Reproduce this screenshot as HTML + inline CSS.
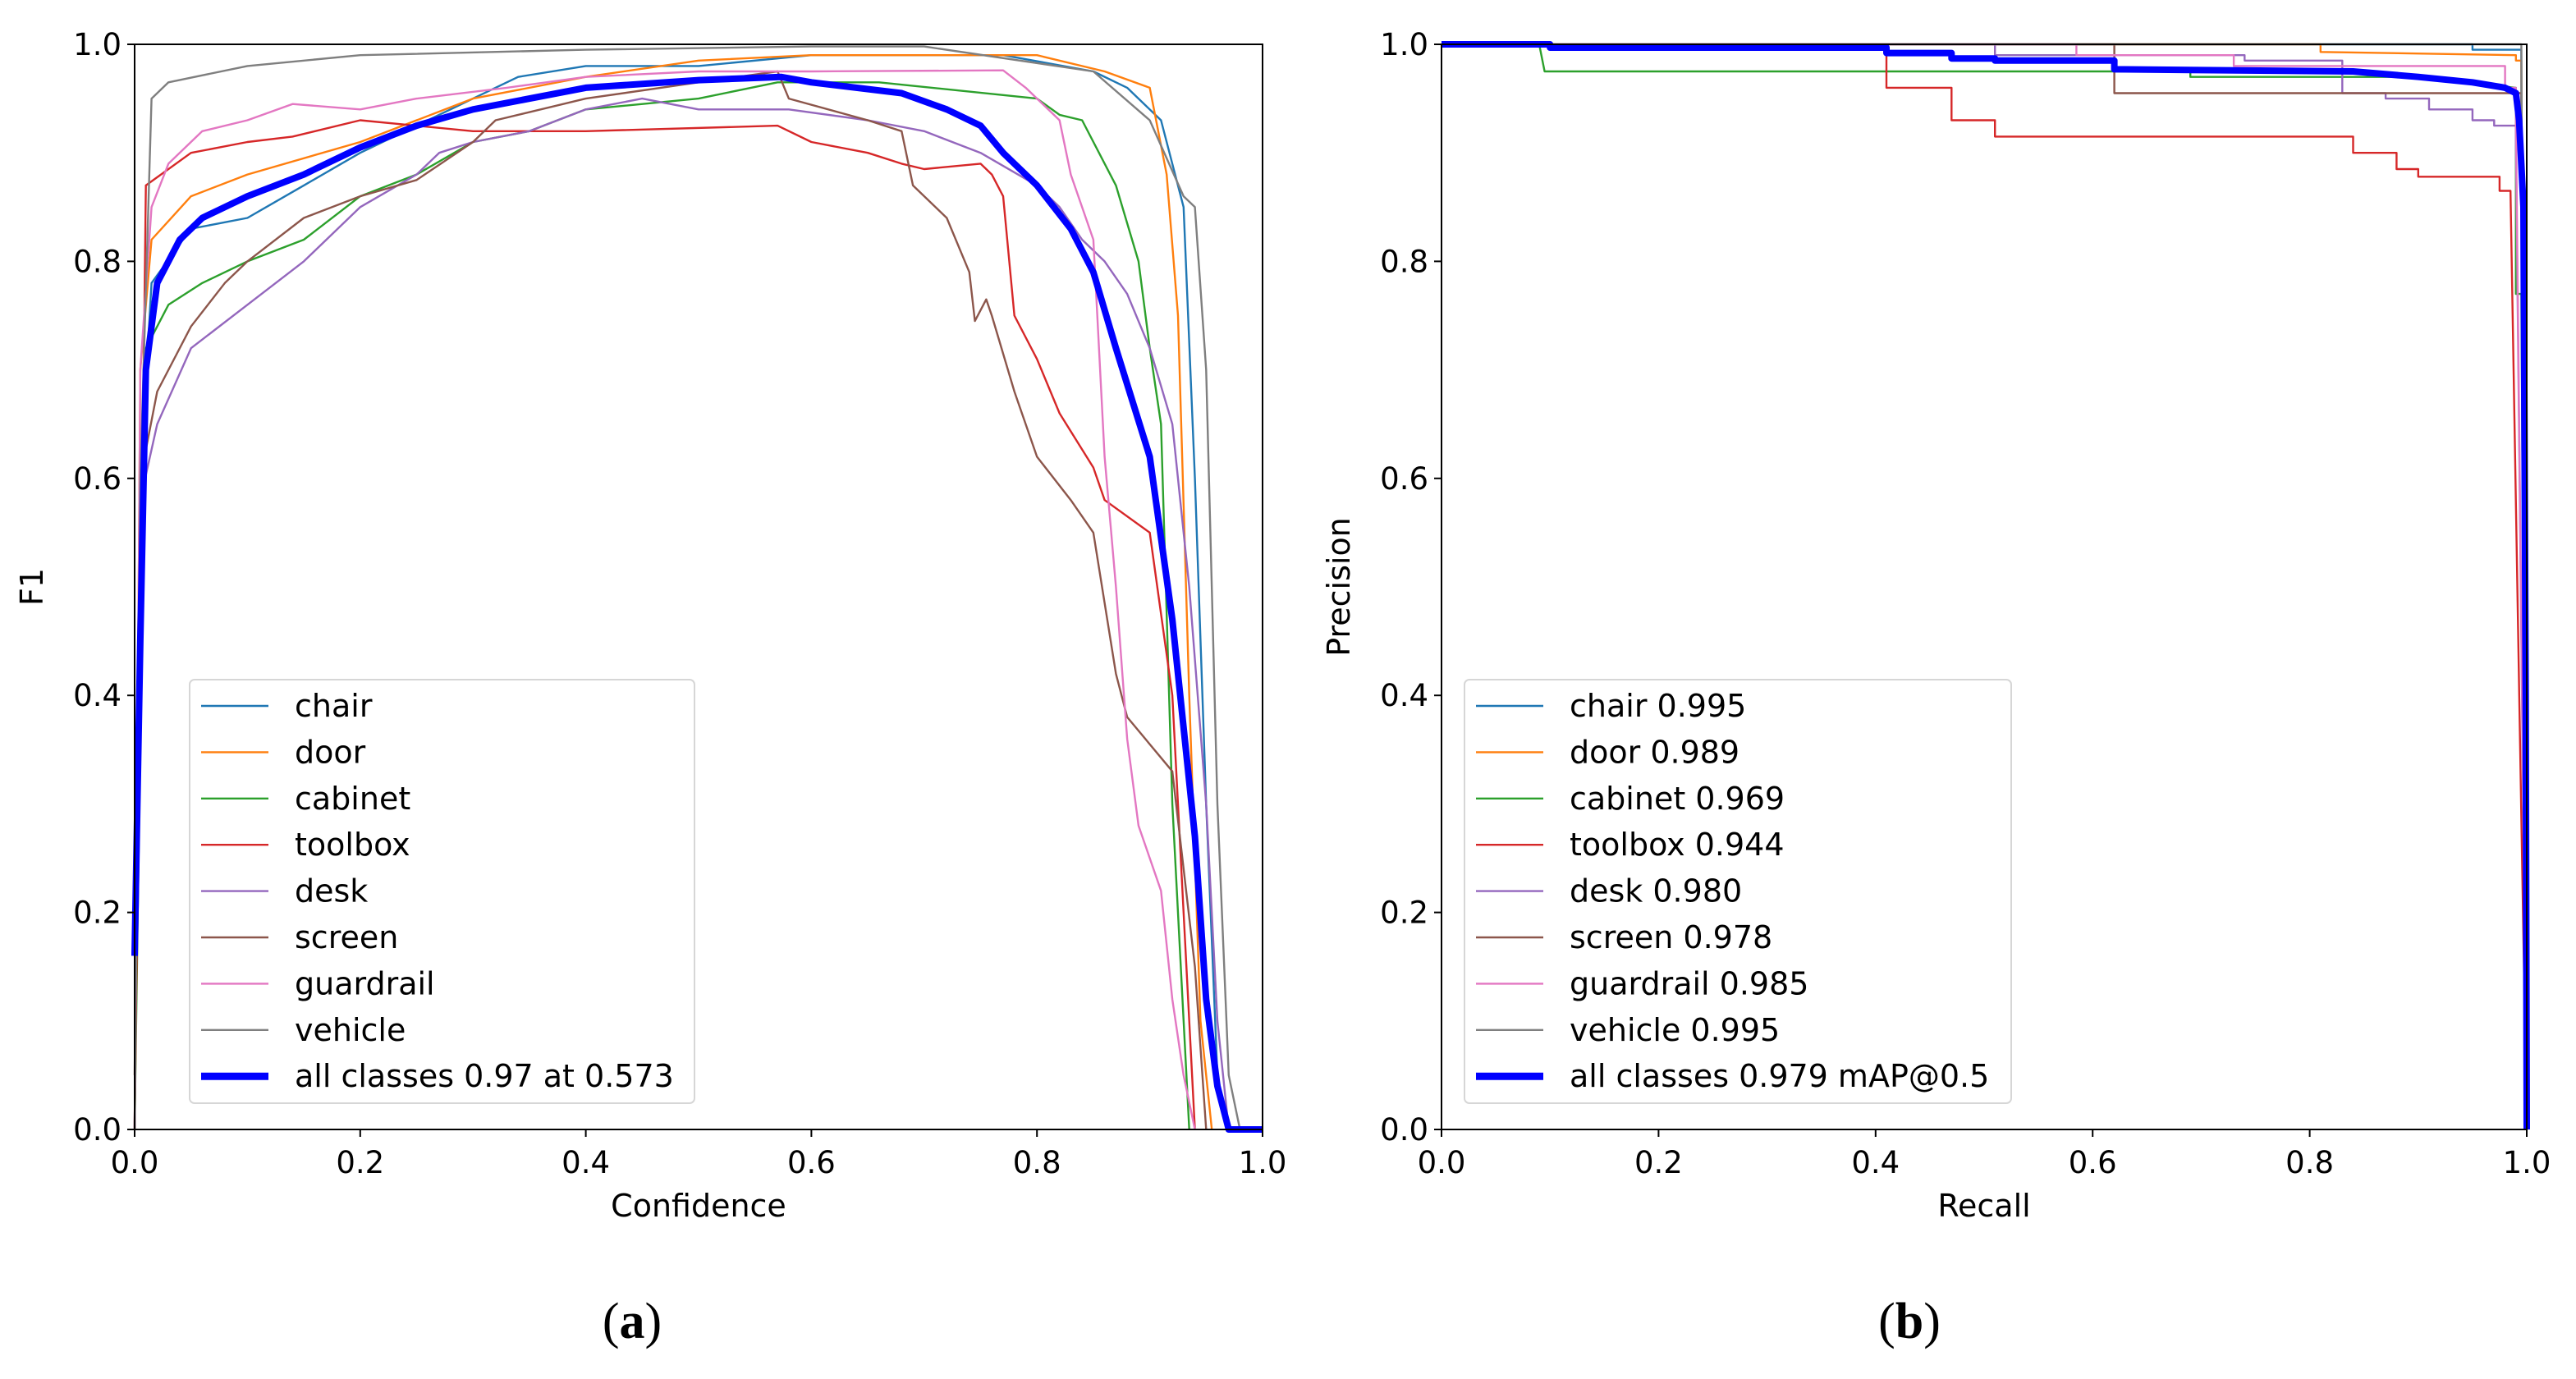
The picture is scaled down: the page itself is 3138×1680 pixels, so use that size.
<!DOCTYPE html>
<html><head><meta charset="utf-8"><style>
html,body{margin:0;padding:0;background:#fff;}
svg{display:block;font-family:"DejaVu Sans","Liberation Sans",sans-serif;}
</style></head><body>
<svg id="chart" width="3138" height="1680" viewBox="0 0 3138 1680" xmlns="http://www.w3.org/2000/svg">
<rect width="3138" height="1680" fill="#fff"/>
<g id="pA"></g>
<g id="pB"></g>
<text x="770" y="1630" text-anchor="middle" font-family="Liberation Serif, serif" font-size="62">(<tspan font-weight="bold">a</tspan>)</text>
<text x="2326" y="1630" text-anchor="middle" font-family="Liberation Serif, serif" font-size="62">(<tspan font-weight="bold">b</tspan>)</text>
</svg>
<script>
const classNames=["chair","door","cabinet","toolbox","desk","screen","guardrail","vehicle","all classes"];
const colors=["#1f77b4","#ff7f0e","#2ca02c","#d62728","#9467bd","#8c564b","#e377c2","#7f7f7f","#0000ff"];
const tickLabels=["0.0","0.2","0.4","0.6","0.8","1.0"];
const tickValues=[0,0.2,0.4,0.6,0.8,1.0];
// F1 vs confidence
const f1X_chair=[0,0.005,0.015,0.05,0.1,0.15,0.2,0.26,0.3,0.34,0.4,0.5,0.6,0.77,0.85,0.88,0.91,0.93,0.94,0.95,0.96,0.97];
const f1Y_chair=[0,0.6,0.78,0.83,0.84,0.87,0.9,0.93,0.95,0.97,0.98,0.98,0.99,0.99,0.975,0.96,0.93,0.85,0.6,0.3,0.05,0];
const f1X_door=[0,0.005,0.015,0.05,0.1,0.2,0.3,0.4,0.5,0.6,0.8,0.86,0.9,0.915,0.925,0.935,0.945,0.955];
const f1Y_door=[0,0.7,0.82,0.86,0.88,0.91,0.95,0.97,0.985,0.99,0.99,0.975,0.96,0.88,0.75,0.4,0.1,0];
const f1X_cabinet=[0,0.01,0.03,0.06,0.1,0.15,0.2,0.25,0.3,0.35,0.4,0.5,0.57,0.66,0.8,0.82,0.84,0.87,0.89,0.9,0.91,0.92,0.935];
const f1Y_cabinet=[0,0.72,0.76,0.78,0.8,0.82,0.86,0.88,0.91,0.92,0.94,0.95,0.965,0.965,0.95,0.935,0.93,0.87,0.8,0.72,0.65,0.3,0];
const f1X_toolbox=[0,0.01,0.05,0.1,0.14,0.2,0.3,0.4,0.57,0.6,0.65,0.68,0.7,0.75,0.76,0.77,0.78,0.8,0.82,0.85,0.86,0.9,0.92,0.93,0.94];
const f1Y_toolbox=[0,0.87,0.9,0.91,0.915,0.93,0.92,0.92,0.925,0.91,0.9,0.89,0.885,0.89,0.88,0.86,0.75,0.71,0.66,0.61,0.58,0.55,0.4,0.2,0];
const f1X_desk=[0,0.005,0.02,0.05,0.1,0.15,0.2,0.25,0.27,0.3,0.35,0.4,0.45,0.5,0.55,0.58,0.65,0.7,0.75,0.8,0.82,0.84,0.86,0.88,0.9,0.92,0.935,0.95,0.96,0.97];
const f1Y_desk=[0,0.58,0.65,0.72,0.76,0.8,0.85,0.88,0.9,0.91,0.92,0.94,0.95,0.94,0.94,0.94,0.93,0.92,0.9,0.87,0.85,0.82,0.8,0.77,0.72,0.65,0.5,0.3,0.1,0];
const f1X_screen=[0,0.005,0.02,0.05,0.08,0.1,0.15,0.2,0.25,0.3,0.32,0.4,0.5,0.57,0.58,0.65,0.68,0.69,0.72,0.74,0.745,0.755,0.76,0.78,0.8,0.83,0.85,0.87,0.88,0.92,0.94,0.95];
const f1Y_screen=[0.05,0.6,0.68,0.74,0.78,0.8,0.84,0.86,0.875,0.91,0.93,0.95,0.965,0.975,0.95,0.93,0.92,0.87,0.84,0.79,0.745,0.765,0.75,0.68,0.62,0.58,0.55,0.42,0.38,0.33,0.15,0];
const f1X_guardrail=[0,0.005,0.015,0.03,0.06,0.1,0.14,0.2,0.25,0.33,0.4,0.5,0.6,0.77,0.79,0.82,0.83,0.85,0.86,0.87,0.88,0.89,0.91,0.92,0.93,0.94];
const f1Y_guardrail=[0,0.7,0.85,0.89,0.92,0.93,0.945,0.94,0.95,0.96,0.97,0.975,0.975,0.976,0.96,0.93,0.88,0.82,0.62,0.5,0.36,0.28,0.22,0.12,0.05,0];
const f1X_vehicle=[0,0.005,0.015,0.03,0.1,0.2,0.4,0.6,0.7,0.85,0.9,0.93,0.94,0.95,0.96,0.97,0.98];
const f1Y_vehicle=[0,0.6,0.95,0.965,0.98,0.99,0.995,0.998,0.998,0.975,0.93,0.86,0.85,0.7,0.3,0.05,0];
const f1X_all=[0,0.005,0.01,0.02,0.04,0.06,0.1,0.15,0.2,0.25,0.3,0.4,0.5,0.573,0.6,0.68,0.72,0.75,0.77,0.8,0.83,0.85,0.87,0.9,0.92,0.94,0.95,0.96,0.97,1];
const f1Y_all=[0.16,0.45,0.7,0.78,0.82,0.84,0.86,0.88,0.905,0.925,0.94,0.96,0.967,0.97,0.965,0.955,0.94,0.925,0.9,0.87,0.83,0.79,0.72,0.62,0.47,0.27,0.12,0.04,0,0];
// Precision vs recall
const prX_chair=[0,0.95,0.95,0.995,0.995,1];
const prY_chair=[1,1,0.995,0.995,0.9,0];
const prX_door=[0,0.81,0.81,0.99,0.99,0.995,1];
const prY_door=[1,1,0.993,0.99,0.985,0.985,0];
const prX_cabinet=[0,0.09,0.095,0.69,0.69,0.9,0.99,0.99,0.995,1];
const prY_cabinet=[1,1,0.975,0.975,0.97,0.97,0.96,0.77,0.77,0];
const prX_toolbox=[0,0.41,0.41,0.47,0.47,0.51,0.51,0.84,0.84,0.88,0.88,0.9,0.9,0.975,0.975,0.985,1];
const prY_toolbox=[1,1,0.96,0.96,0.93,0.93,0.915,0.915,0.9,0.9,0.885,0.885,0.878,0.878,0.865,0.865,0];
const prX_desk=[0,0.51,0.51,0.74,0.74,0.83,0.83,0.87,0.87,0.91,0.91,0.95,0.95,0.97,0.97,0.99,0.99,1];
const prY_desk=[1,1,0.99,0.99,0.985,0.985,0.955,0.955,0.95,0.95,0.94,0.94,0.93,0.93,0.925,0.925,0.91,0];
const prX_screen=[0,0.62,0.62,0.995,1];
const prY_screen=[1,1,0.955,0.955,0];
const prX_guardrail=[0,0.585,0.585,0.73,0.73,0.98,0.98,0.99,0.99,1];
const prY_guardrail=[1,1,0.99,0.99,0.98,0.98,0.96,0.96,0.93,0];
const prX_vehicle=[0,0.995,1];
const prY_vehicle=[1,1,0];
const prX_all=[0,0.1,0.1,0.41,0.41,0.47,0.47,0.51,0.51,0.62,0.62,0.84,0.9,0.95,0.98,0.99,0.993,0.997,0.999,1];
const prY_all=[1,1,0.997,0.997,0.992,0.992,0.987,0.987,0.985,0.985,0.977,0.975,0.97,0.965,0.96,0.955,0.93,0.85,0.4,0];
const apValues=["0.995","0.989","0.969","0.944","0.980","0.978","0.985","0.995","0.979 mAP@0.5"];

const NS="http://www.w3.org/2000/svg";
function mk(parent,tag,attrs,text){const e=document.createElementNS(NS,tag);for(const k in attrs)e.setAttribute(k,attrs[k]);if(text!==undefined)e.textContent=text;parent.appendChild(e);return e;}

function panel(g,L,R,T,B,xsArr,ysArr,xLabel,yLabel,legendTexts,leg){
  const sx=v=>L+v*(R-L), sy=v=>B-v*(B-T);
  for(let i=0;i<xsArr.length;i++){
    const pts=xsArr[i].map((x,j)=>sx(x).toFixed(1)+","+sy(ysArr[i][j]).toFixed(1)).join(" ");
    const p=mk(g,"polyline",{points:pts,fill:"none",stroke:colors[i],"stroke-width":i==8?8:2.4,"stroke-linejoin":"round"});
    
    
  }
  const frame=mk(g,"rect",{x:L,y:T,width:R-L,height:B-T,fill:"none",stroke:"#000","stroke-width":2});
  
  
  tickValues.forEach((v,i)=>{
    mk(g,"line",{x1:sx(v),x2:sx(v),y1:B,y2:B+9,stroke:"#000","stroke-width":2});
    const tx=mk(g,"text",{x:sx(v),y:B+53,"text-anchor":"middle","font-size":37},tickLabels[i]);
    
    
    mk(g,"line",{x1:L-9,x2:L,y1:sy(v),y2:sy(v),stroke:"#000","stroke-width":2});
    const ty=mk(g,"text",{x:L-16,y:sy(v)+13,"text-anchor":"end","font-size":37},tickLabels[i]);
    
    
  });
  const xl=mk(g,"text",{x:(L+R)/2,y:B+106,"text-anchor":"middle","font-size":38},xLabel);
  
  
  const yl=mk(g,"text",{x:0,y:0,"text-anchor":"middle","font-size":38,transform:`translate(${L-112},${(T+B)/2}) rotate(-90)`},yLabel);
  
  
  const lg=mk(g,"g",{});
  
  
  mk(lg,"rect",{x:leg.x,y:828,width:leg.w,height:516,rx:6,fill:"#fff","fill-opacity":0.8,stroke:"#d6d6d6","stroke-width":2});
  legendTexts.forEach((t,i)=>{
    const y=860+i*56.4;
    const e=mk(lg,"g",{});
    
    
    mk(e,"line",{x1:leg.x+14,x2:leg.x+96,y1:y,y2:y,stroke:colors[i],"stroke-width":i==8?9:2.4});
    mk(e,"text",{x:leg.x+128,y:y+13,"font-size":38},t);
  });
}
const fA=[f1X_chair,f1X_door,f1X_cabinet,f1X_toolbox,f1X_desk,f1X_screen,f1X_guardrail,f1X_vehicle,f1X_all];
const fAy=[f1Y_chair,f1Y_door,f1Y_cabinet,f1Y_toolbox,f1Y_desk,f1Y_screen,f1Y_guardrail,f1Y_vehicle,f1Y_all];
const legA=classNames.slice(0,8).concat(["all classes 0.97 at 0.573"]);
panel(document.getElementById("pA"),164,1538,54,1376,fA,fAy,"Confidence","F1",legA,{x:231,w:615});
const pB=[prX_chair,prX_door,prX_cabinet,prX_toolbox,prX_desk,prX_screen,prX_guardrail,prX_vehicle,prX_all];
const pBy=[prY_chair,prY_door,prY_cabinet,prY_toolbox,prY_desk,prY_screen,prY_guardrail,prY_vehicle,prY_all];
const legB=classNames.map((c,i)=>c+" "+apValues[i]);
panel(document.getElementById("pB"),1756,3078,54,1376,pB,pBy,"Recall","Precision",legB,{x:1784,w:666});
</script>
</body></html>
